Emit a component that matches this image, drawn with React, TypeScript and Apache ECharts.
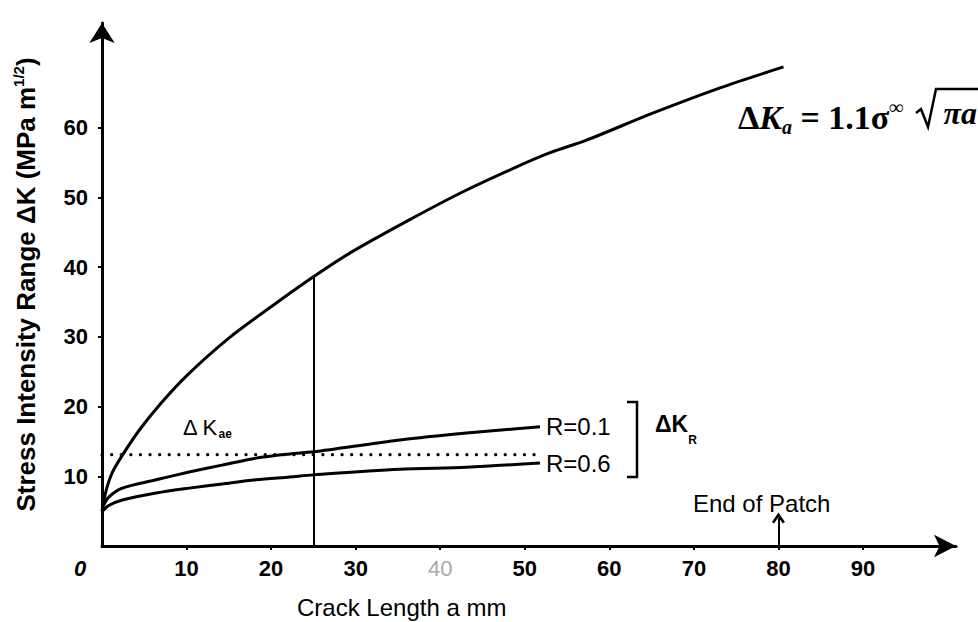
import React, { useEffect, useRef } from "react";
import * as echarts from "echarts";

// ---- data ----
const xTickValues = [10, 20, 30, 40, 50, 60, 70, 80, 90];
const yTickValues = [10, 20, 30, 40, 50, 60];

// ΔKa = 1.1σ∞√(πa) curve
const kaA = [0, 0.5, 1.2, 2.4, 4.4, 7, 10, 15, 20, 25, 29.3, 36.4, 42.7, 49.1, 53, 57.3, 65.2, 73.1, 80.6];
const kaK = [5, 8, 10.5, 13, 16.6, 20.5, 24.4, 29.8, 34.3, 38.6, 42, 46.8, 50.8, 54.4, 56.4, 58.2, 62.1, 65.7, 68.7];

// ΔKR, R = 0.1
const r01A = [0, 0.8, 2.4, 6.4, 10.3, 14.2, 18.2, 22.2, 25, 35.2, 43.1, 51.8];
const r01K = [5.4, 7, 8.3, 9.5, 10.6, 11.6, 12.6, 13.2, 13.5, 15.2, 16.2, 17.1];

// ΔKR, R = 0.6
const r06A = [0, 0.8, 2.4, 6.4, 10.3, 14.2, 18.2, 22.2, 25, 35.2, 43.1, 51.8];
const r06K = [4.9, 5.8, 6.6, 7.6, 8.3, 8.9, 9.5, 9.9, 10.2, 11.0, 11.3, 11.9];

// ΔKae threshold (dotted)
const aeA = [0, 52];
const aeK = [13.1, 13.1];

// markers
const patchEndA = 80;
const patchArrowK = 4.0;
const verticalA = 25;
const verticalTopK = 38.6;

const zip = (a: number[], b: number[]) => a.map((v, i) => [v, b[i]]);

const SANS = "'Liberation Sans', Arial, Helvetica, sans-serif";
const SERIF = "'Liberation Serif', 'Times New Roman', serif";
const BLACK = "#000";

export default function App() {
  const ref = useRef<HTMLDivElement>(null);

  useEffect(() => {
    if (!ref.current) return;
    const chart = echarts.init(ref.current, null, { renderer: "svg" });

    const lineBase = {
      type: "line",
      showSymbol: false,
      symbol: "none",
      smooth: 0.3,
      silent: true,
      lineStyle: { color: BLACK, width: 3 },
    };

    const option: any = {
      animation: false,
      backgroundColor: "#fff",
      grid: { left: 102, right: 22, top: 23, bottom: 76, containLabel: false },
      xAxis: {
        type: "value",
        min: 0,
        max: 101,
        splitLine: { show: false },
        axisLine: {
          show: true,
          onZero: false,
          lineStyle: { color: BLACK, width: 3 },
          symbol: ["none", "arrow"],
          symbolSize: [17, 22],
        },
        axisTick: {
          show: true,
          customValues: xTickValues,
          length: 4,
          lineStyle: { color: BLACK, width: 2 },
        },
        axisLabel: {
          customValues: xTickValues,
          margin: 11,
          fontSize: 22,
          fontWeight: "bold",
          fontFamily: SANS,
          color: BLACK,
          formatter: (v: number) => (v === 40 ? "{faint|40}" : String(v)),
          rich: {
            faint: { fontSize: 22, fontFamily: SANS, fontWeight: "normal", color: "#a8a8a8" },
          },
        },
      },
      yAxis: {
        type: "value",
        min: 0,
        max: 75,
        splitLine: { show: false },
        axisLine: {
          show: true,
          onZero: false,
          lineStyle: { color: BLACK, width: 3 },
          symbol: ["none", "arrow"],
          symbolSize: [19, 20],
        },
        axisTick: {
          show: true,
          customValues: yTickValues,
          length: 4,
          lineStyle: { color: BLACK, width: 2 },
        },
        axisLabel: {
          customValues: yTickValues,
          margin: 14,
          fontSize: 22,
          fontWeight: "bold",
          fontFamily: SANS,
          color: BLACK,
        },
        name: "Stress Intensity Range ΔK (MPa m{sup|1/2})",
        nameLocation: "middle",
        nameRotate: 90,
        nameGap: 61,
        nameTextStyle: {
          fontSize: 26,
          fontWeight: "bold",
          fontFamily: SANS,
          color: BLACK,
          lineHeight: 30,
          rich: {
            sup: {
              fontSize: 15,
              fontWeight: "bold",
              fontFamily: SANS,
              color: BLACK,
              lineHeight: 15,
              verticalAlign: "top",
            },
          },
        },
      },
      series: [
        {
          ...lineBase,
          name: "ΔKa",
          data: zip(kaA, kaK),
          markLine: {
            silent: true,
            animation: false,
            label: { show: false },
            emphasis: { disabled: true },
            lineStyle: { color: BLACK, width: 2, type: "solid" },
            data: [
              [
                { coord: [verticalA, 0], symbol: "none" },
                { coord: [verticalA, verticalTopK], symbol: "none" },
              ],
              [
                { coord: [patchEndA, 0], symbol: "none" },
                {
                  coord: [patchEndA, patchArrowK],
                  symbol: "path://M6,0 L12,9 L10,10.5 L6,4.5 L2,10.5 L0,9 Z",
                  symbolSize: [13, 11],
                },
              ],
            ],
          },
        },
        {
          ...lineBase,
          name: "R=0.1",
          data: zip(r01A, r01K),
          endLabel: {
            show: true,
            formatter: "R=0.1",
            distance: 6,
            fontSize: 24,
            fontFamily: SANS,
            color: BLACK,
          },
        },
        {
          ...lineBase,
          name: "R=0.6",
          data: zip(r06A, r06K),
          endLabel: {
            show: true,
            formatter: "R=0.6",
            distance: 6,
            fontSize: 24,
            fontFamily: SANS,
            color: BLACK,
          },
        },
        {
          type: "line",
          name: "ΔKae",
          showSymbol: false,
          symbol: "none",
          silent: true,
          data: zip(aeA, aeK),
          lineStyle: { color: BLACK, width: 3.2, type: [0.1, 9.5], cap: "round" },
        },
      ],
      graphic: [
        {
          type: "text",
          x: 80,
          y: 568,
          style: {
            text: "0",
            font: `italic bold 22px ${SANS}`,
            fill: BLACK,
            textAlign: "center",
            textVerticalAlign: "middle",
          },
        },
        {
          type: "text",
          x: 297,
          y: 607,
          style: {
            text: "Crack Length a mm",
            font: `24px ${SANS}`,
            fill: BLACK,
            textAlign: "left",
            textVerticalAlign: "middle",
          },
        },
        {
          type: "text",
          x: 183,
          y: 427,
          style: {
            text: "Δ K{s|ae}",
            font: `22px ${SANS}`,
            fill: BLACK,
            lineHeight: 26,
            textAlign: "left",
            textVerticalAlign: "middle",
            rich: {
              s: { font: `bold 12px ${SANS}`, fill: BLACK, lineHeight: 10, verticalAlign: "bottom" },
            },
          },
        },
        {
          type: "polyline",
          shape: { points: [[627, 402], [637, 402], [637, 477], [627, 477]] },
          style: { stroke: BLACK, lineWidth: 2.5, fill: "none" },
        },
        {
          type: "text",
          x: 655,
          y: 424,
          style: {
            text: "ΔK{s|R}",
            font: `bold 23px ${SANS}`,
            fill: BLACK,
            lineHeight: 44,
            textAlign: "left",
            textVerticalAlign: "middle",
            rich: {
              s: { font: `bold 12px ${SANS}`, fill: BLACK, lineHeight: 12, verticalAlign: "bottom" },
            },
          },
        },
        {
          type: "text",
          x: 693,
          y: 503,
          style: {
            text: "End of Patch",
            font: `24px ${SANS}`,
            fill: BLACK,
            textAlign: "left",
            textVerticalAlign: "middle",
          },
        },
        {
          type: "text",
          x: 738,
          y: 117,
          style: {
            text: "{d|Δ}{k|K}{s|a}{e| = 1.1σ}{p|∞}",
            font: `bold 34px ${SERIF}`,
            fill: BLACK,
            lineHeight: 40,
            textAlign: "left",
            textVerticalAlign: "middle",
            rich: {
              d: { font: `bold 34px ${SERIF}`, fill: BLACK, lineHeight: 40 },
              k: { font: `italic bold 34px ${SERIF}`, fill: BLACK, lineHeight: 40 },
              s: { font: `italic bold 20px ${SERIF}`, fill: BLACK, lineHeight: 20, verticalAlign: "bottom" },
              e: { font: `bold 34px ${SERIF}`, fill: BLACK, lineHeight: 40 },
              p: { font: `bold 20px ${SERIF}`, fill: BLACK, lineHeight: 22, verticalAlign: "top" },
            },
          },
        },
        {
          type: "polyline",
          shape: { points: [[916, 113], [921, 109], [928, 127], [936, 89], [978, 89]] },
          style: { stroke: BLACK, lineWidth: 2.5, fill: "none", lineJoin: "miter" },
        },
        {
          type: "text",
          x: 977,
          y: 113,
          style: {
            text: "πa",
            font: `italic bold 32px ${SERIF}`,
            fill: BLACK,
            textAlign: "right",
            textVerticalAlign: "middle",
          },
        },
      ],
    };

    chart.setOption(option);
    return () => chart.dispose();
  }, []);

  return (
    <div
      ref={ref}
      style={{ position: "fixed", left: 0, top: 0, width: 978, height: 622, background: "#fff" }}
    />
  );
}
